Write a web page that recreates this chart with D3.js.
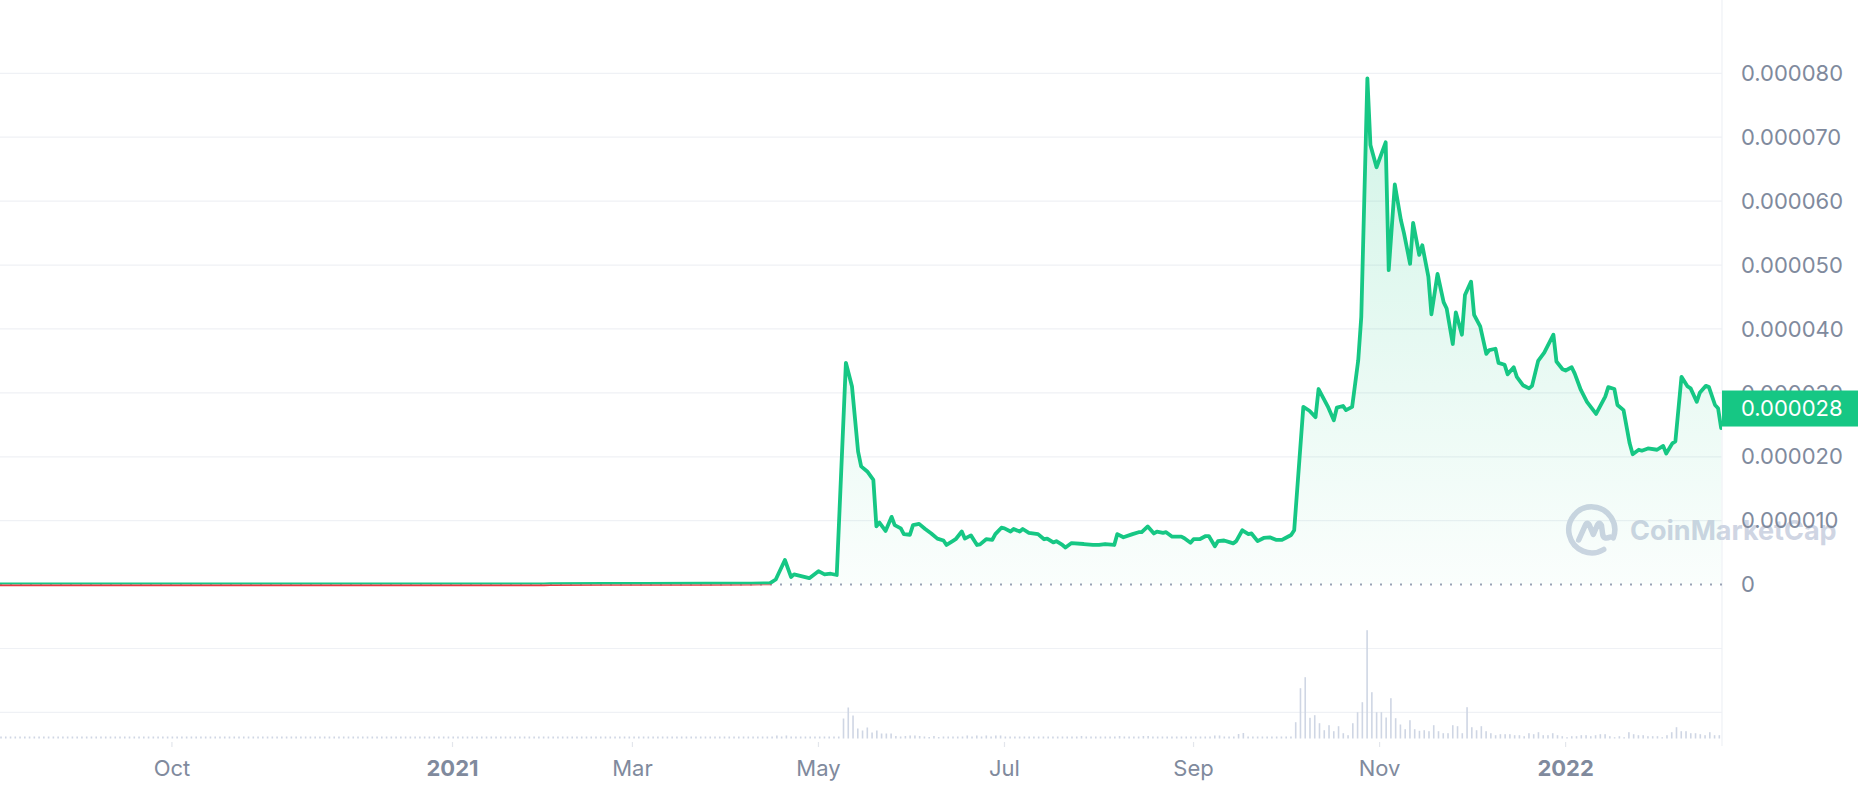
<!DOCTYPE html>
<html><head><meta charset="utf-8">
<script src="https://cdn.jsdelivr.net/npm/d3@7"></script>
<style>html,body{margin:0;padding:0;background:#fff;overflow:hidden}svg{display:block;font-family:Inter,"Noto Sans",sans-serif}</style>
</head><body><svg id="chart" width="1858" height="792"></svg>
<script>
// ---- data (price in units of 1e-6 USD) ----
const priceDates = [
"2020-08-05","2020-09-10","2020-10-20","2020-12-01","2021-01-10","2021-01-31","2021-02-02","2021-02-20","2021-03-05","2021-03-25",
"2021-04-09","2021-04-15","2021-04-17","2021-04-20","2021-04-22","2021-04-23","2021-04-28","2021-05-01","2021-05-03","2021-05-05",
"2021-05-07","2021-05-10","2021-05-12","2021-05-14","2021-05-15","2021-05-17","2021-05-19","2021-05-20","2021-05-21","2021-05-23",
"2021-05-25","2021-05-26","2021-05-28","2021-05-29","2021-05-31","2021-06-01","2021-06-03","2021-06-05","2021-06-07","2021-06-09",
"2021-06-11","2021-06-12","2021-06-14","2021-06-15","2021-06-17","2021-06-18","2021-06-20","2021-06-22","2021-06-23","2021-06-25",
"2021-06-27","2021-06-28","2021-06-30","2021-07-01","2021-07-03","2021-07-04","2021-07-06","2021-07-07","2021-07-09","2021-07-12",
"2021-07-14","2021-07-15","2021-07-17","2021-07-18","2021-07-20","2021-07-21","2021-07-23","2021-07-27","2021-07-30","2021-08-01",
"2021-08-03","2021-08-06","2021-08-07","2021-08-09","2021-08-12","2021-08-14","2021-08-15","2021-08-17","2021-08-19","2021-08-20",
"2021-08-22","2021-08-23","2021-08-25","2021-08-28","2021-08-29","2021-08-31","2021-09-01","2021-09-03","2021-09-05","2021-09-06",
"2021-09-08","2021-09-09","2021-09-11","2021-09-13","2021-09-14","2021-09-15","2021-09-17","2021-09-19","2021-09-20","2021-09-22",
"2021-09-24","2021-09-26","2021-09-28","2021-09-30","2021-10-01","2021-10-03","2021-10-04","2021-10-07","2021-10-09","2021-10-11",
"2021-10-12","2021-10-15","2021-10-17","2021-10-18","2021-10-20","2021-10-21","2021-10-23","2021-10-25","2021-10-26","2021-10-28",
"2021-10-29","2021-10-31","2021-11-03","2021-11-04","2021-11-06","2021-11-08","2021-11-09","2021-11-11","2021-11-12","2021-11-14",
"2021-11-15","2021-11-17","2021-11-18","2021-11-20","2021-11-22","2021-11-23","2021-11-25","2021-11-26","2021-11-28","2021-11-29",
"2021-12-01","2021-12-02","2021-12-04","2021-12-06","2021-12-07","2021-12-09","2021-12-10","2021-12-12","2021-12-13","2021-12-15",
"2021-12-16","2021-12-18","2021-12-20","2021-12-21","2021-12-23","2021-12-25","2021-12-28","2021-12-29","2021-12-31","2022-01-01",
"2022-01-03","2022-01-04","2022-01-06","2022-01-08","2022-01-11","2022-01-12","2022-01-14","2022-01-15","2022-01-17","2022-01-18",
"2022-01-20","2022-01-22","2022-01-23","2022-01-25","2022-01-26","2022-01-28","2022-01-31","2022-02-02","2022-02-03","2022-02-05",
"2022-02-06","2022-02-08","2022-02-10","2022-02-11","2022-02-13","2022-02-14","2022-02-16","2022-02-17","2022-02-19","2022-02-20",
"2022-02-21"];
const priceE6 = [
0.02,0.02,0.02,0.02,0.03,0.05,0.09,0.1,0.12,0.13,
0.15,0.2,0.8,3.85,1.2,1.6,1.0,2.1,1.6,1.7,
1.5,34.7,31.0,20.8,18.5,17.7,16.4,9.1,9.7,8.4,
10.6,9.3,8.8,7.9,7.8,9.3,9.5,8.7,8.0,7.2,
6.9,6.2,6.8,7.1,8.3,7.2,7.7,6.2,6.3,7.1,
7.0,7.9,8.9,8.8,8.3,8.7,8.3,8.7,8.1,7.9,
7.1,7.2,6.6,6.8,6.2,5.8,6.5,6.35,6.2,6.2,
6.35,6.2,7.9,7.4,7.9,8.2,8.2,9.1,8.0,8.3,
8.1,8.2,7.5,7.5,7.25,6.55,7.1,7.1,7.6,7.6,
6.0,6.8,6.9,6.6,6.45,6.8,8.5,7.9,8.0,6.8,
7.3,7.4,7.0,7.0,7.25,7.76,8.5,27.8,27.2,26.2,
30.6,27.9,25.7,27.7,27.95,27.3,27.8,35.1,41.9,79.2,
68.8,65.3,69.2,49.2,62.6,57.0,55.0,50.2,56.6,51.6,
53.1,48.2,42.3,48.6,44.2,43.2,37.65,42.6,39.1,45.3,
47.4,42.2,40.4,36.1,36.7,36.9,34.7,34.4,32.9,34.0,
32.5,31.2,30.7,31.1,35.0,36.3,39.1,34.9,33.7,33.5,
34.0,33.0,30.45,28.6,26.7,27.6,29.4,30.9,30.6,28.1,
27.3,22.1,20.4,21.1,20.95,21.3,21.1,21.7,20.5,22.1,
22.4,32.5,31.0,30.7,28.6,30.0,31.1,30.9,28.1,27.6,
24.5];
const lastPriceE6 = 27.55;

// volume (relative units), one bar every volumeStepHours from volumeStart
const volumeStart = "2020-08-05T22:48:00Z";
const volumeStepHours = 37.46;
const volumeRel = [
0.2,0.2,0.2,0.2,0.2,0.2,0.2,0.2,0.2,0.2,0.2,0.2,0.2,0.2,0.2,0.2,0.2,0.2,0.2,0.2,
0.2,0.2,0.2,0.2,0.2,0.2,0.2,0.2,0.2,0.2,0.2,0.2,0.2,0.2,0.2,0.2,0.2,0.2,0.2,0.2,
0.2,0.2,0.2,0.2,0.2,0.2,0.2,0.2,0.2,0.2,0.2,0.2,0.2,0.2,0.2,0.2,0.2,0.2,0.2,0.2,
0.2,0.2,0.2,0.2,0.2,0.2,0.2,0.2,0.2,0.2,0.2,0.2,0.2,0.2,0.2,0.2,0.2,0.2,0.2,0.2,
0.2,0.2,0.2,0.2,0.2,0.2,0.2,0.2,0.2,0.2,0.2,0.2,0.2,0.2,0.2,0.2,0.2,0.2,0.2,0.2,
0.2,0.2,0.2,0.2,0.2,0.2,0.2,0.2,0.2,0.2,0.2,0.2,0.2,0.2,0.2,0.2,0.2,0.2,0.2,0.2,
0.2,0.2,0.2,0.2,0.2,0.2,0.2,0.2,0.2,0.2,0.2,0.2,0.2,0.2,0.2,0.2,0.2,0.2,0.2,0.2,
0.2,0.2,0.2,0.2,0.2,0.2,0.2,0.2,0.2,0.2,0.2,0.2,0.2,0.2,0.2,0.2,0.2,0.2,0.2,0.2,
0.2,0.2,0.2,0.3,0.2,0.3,0.2,0.2,0.2,0.2,0.2,0.2,0.2,0.2,0.2,0.2,0.2,
2.0,3.1,2.3,1.0,0.8,1.1,0.6,0.8,0.5,0.5,0.5,
0.25,0.2,0.25,0.3,0.3,0.25,0.2,0.15,0.25,0.15,0.2,0.2,
0.2,0.2,0.2,0.3,0.2,0.3,0.2,0.3,0.2,0.3,0.3,0.2,
0.2,0.2,0.2,0.2,0.2,0.2,0.2,0.2,0.2,0.2,0.2,0.2,0.2,0.2,0.2,
0.25,0.2,0.2,0.2,0.2,0.2,0.2,0.2,0.25,0.2,0.2,0.2,0.2,0.25,0.25,
0.2,0.2,0.2,0.2,0.2,0.2,0.2,0.2,0.2,0.2,0.2,0.2,0.2,
0.3,0.3,0.2,0.2,0.2,0.45,0.55,
0.2,0.2,0.2,0.2,0.2,0.2,0.2,0.2,0.2,0.2,
1.63,5.03,6.13,2.07,2.33,1.53,0.83,1.33,0.73,1.23,
0.53,0.33,1.53,2.63,3.63,10.83,4.63,2.63,2.63,2.1,
4.03,2.03,1.4,0.93,1.83,0.93,0.77,0.83,0.73,1.33,
0.73,0.53,0.53,1.33,1.23,0.53,3.13,1.13,0.83,1.23,
0.73,0.53,0.33,0.43,0.43,0.43,0.33,0.33,0.23,0.53,
0.43,0.63,0.33,0.33,0.53,0.33,0.23,0.13,0.23,0.23,
0.33,0.33,0.23,0.33,0.43,0.43,0.23,0.13,0.23,0.13,
0.63,0.43,0.33,0.33,0.23,0.23,0.23,0.13,0.33,0.63,
1.13,0.73,0.73,0.53,0.53,0.43,0.33,0.63,0.33,0.33];

const xTickDates = ["2020-10-01","2021-01-01","2021-03-01","2021-05-01","2021-07-01","2021-09-01","2021-11-01","2022-01-01"];
const xTickLabels = ["Oct","2021","Mar","May","Jul","Sep","Nov","2022"];
const xTickBold = [false,true,false,false,false,false,false,true];
const yTickValuesE6 = [0,10,20,30,40,50,60,70,80];
const gridValuesE6 = [-20,-10,10,20,30,40,50,60,70,80];

// ---- build ----
const parse = d3.utcParse("%Y-%m-%d");
const prices = priceDates.map((d,i)=>({date:parse(d), v:priceE6[i]}));
const vStart = new Date(volumeStart);
const volumes = volumeRel.map((v,i)=>({date:new Date(+vStart + i*volumeStepHours*3600e3), v}));

const W = 1858, H = 792, plotRight = 1722;
const svg = d3.select("#chart");
const x = d3.scaleUtc().domain([Date.UTC(2021,0,1), Date.UTC(2022,0,1)]).range([452.5, 1565.6]);
const y = d3.scaleLinear().domain([0, 80]).range([584.6, 73.3]);
const yVol = d3.scaleLinear().domain([0, 10]).range([738.5, 638.5]);
const startV = prices[0].v, y0 = y(startV);

const defs = svg.append("defs");
defs.append("clipPath").attr("id","plot").append("rect").attr("x",0).attr("y",0).attr("width",plotRight).attr("height",H);
defs.append("clipPath").attr("id","above").append("rect").attr("x",0).attr("y",0).attr("width",plotRight).attr("height",y0);
defs.append("clipPath").attr("id","below").append("rect").attr("x",0).attr("y",y0).attr("width",plotRight).attr("height",H-y0);
const g1 = defs.append("linearGradient").attr("id","gGreen").attr("gradientUnits","userSpaceOnUse")
  .attr("x1",0).attr("x2",0).attr("y1",y(80)).attr("y2",y(0));
g1.append("stop").attr("offset",0).attr("stop-color","#16c784").attr("stop-opacity",0.2);
g1.append("stop").attr("offset",1).attr("stop-color","#16c784").attr("stop-opacity",0.02);

// grid
svg.append("g").selectAll("line").data(gridValuesE6).join("line")
  .attr("x1",0).attr("x2",plotRight).attr("y1",d=>y(d)).attr("y2",d=>y(d))
  .attr("stroke","#eff1f5").attr("stroke-width",1.2);
svg.append("line").attr("x1",plotRight).attr("x2",plotRight).attr("y1",0).attr("y2",746)
  .attr("stroke","#eff1f5").attr("stroke-width",1.2);

// watermark
const wm = svg.append("g").attr("transform","translate(1591.7,530)").attr("fill","none").attr("stroke","#cfd5e3").attr("stroke-width",5.5).attr("stroke-linecap","round").attr("stroke-linejoin","round");
wm.append("path").attr("d","M12 19.5 A23 23 0 1 1 21.6 7.9");
wm.append("path").attr("d","M-13 10 L-6.5 -4.5 Q-4.5 -9 -2.2 -4.5 L1.6 4.5 L5.5 -4.5 Q7.6 -9 9.8 -4.5 L11 4.5 Q12 10 18.5 7");
svg.append("text").attr("x",1630).attr("y",540).attr("font-size",27).attr("font-weight",700)
  .attr("fill","#cfd5e3").text("CoinMarketCap");

// volume bars
svg.append("g").attr("clip-path","url(#plot)").selectAll("rect").data(volumes).join("rect")
  .attr("x",d=>x(d.date)-0.8).attr("width",1.6)
  .attr("y",d=>yVol(d.v)).attr("height",d=>yVol(0)-yVol(d.v)).attr("fill","#cfd6e4");

// dotted baseline at start price
svg.append("line").attr("x1",0).attr("x2",plotRight).attr("y1",y0).attr("y2",y0)
  .attr("stroke","#9aa2b5").attr("stroke-width",2).attr("stroke-dasharray","2 8");

// area + line
const area = d3.area().x(d=>x(d.date)).y0(y0).y1(d=>y(d.v));
const line = d3.line().x(d=>x(d.date)).y(d=>y(d.v));
const pg = svg.append("g").attr("clip-path","url(#plot)");
pg.append("g").attr("clip-path","url(#above)").append("path").datum(prices).attr("d",area).attr("fill","url(#gGreen)");
pg.append("g").attr("clip-path","url(#above)").append("path").datum(prices).attr("d",line)
  .attr("fill","none").attr("stroke","#16c784").attr("stroke-width",3.8).attr("stroke-linejoin","round").attr("stroke-linecap","round");
pg.append("g").attr("clip-path","url(#below)").append("path").datum(prices).attr("d",line)
  .attr("fill","none").attr("stroke","#ea3943").attr("stroke-width",3.8).attr("stroke-linejoin","round").attr("stroke-linecap","round");

// y labels
const fmt = v => v===0 ? "0" : (v*1e-6).toFixed(6);
svg.append("g").selectAll("text").data(yTickValuesE6).join("text")
  .attr("x",1741).attr("y",d=>y(d)).attr("dy","0.35em").attr("font-size",22).attr("fill","#808a9d").text(fmt);

// current price tag
const ly = y(lastPriceE6);
svg.append("rect").attr("x",plotRight).attr("y",ly-18).attr("width",W-plotRight).attr("height",36).attr("fill","#16c784");
svg.append("text").attr("x",1741).attr("y",ly).attr("dy","0.35em").attr("font-size",22).attr("fill","#ffffff").text(fmt(lastPriceE6));

// x ticks & labels
const xt = svg.append("g");
xTickDates.forEach((d,i)=>{
  const px = x(parse(d));
  xt.append("line").attr("x1",px).attr("x2",px).attr("y1",742).attr("y2",747).attr("stroke","#e3e6ec").attr("stroke-width",1.2);
  xt.append("text").attr("x",px).attr("y",775.7).attr("text-anchor","middle").attr("font-size",22)
    .attr("font-weight",xTickBold[i]?700:400).attr("fill","#808a9d").text(xTickLabels[i]);
});
</script></body></html>
